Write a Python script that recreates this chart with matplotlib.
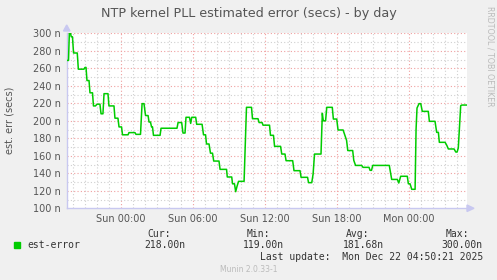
import numpy as np
import matplotlib
matplotlib.use('Agg')
import matplotlib.pyplot as plt

# hours relative to Sun 00:00 and the value (ns), row by row
hours = [-4.45, -4.35, -4.28, -4.18, -4.12, -4.02, -3.93, -3.62, -3.53, -3.06,
         -2.98, -2.89, -2.81, -2.64, -2.56, -2.35, -2.27, -2.10, -1.98, -1.73,
         -1.64, -1.48, -1.39, -1.06, -0.98, -0.56, -0.48, -0.23, -0.14, 0.07,
         0.15, 0.61, 0.69, 1.19, 1.27, 1.65, 1.78, 1.94, 2.07, 2.28,
         2.36, 2.48, 2.57, 2.65, 2.73, 3.28, 3.36, 4.69, 4.78, 5.08,
         5.19, 5.36, 5.44, 5.73, 5.83, 5.92, 6.25, 6.33, 6.78, 6.90,
         7.07, 7.15, 7.36, 7.48, 7.65, 7.75, 8.19, 8.28, 8.82, 8.88,
         9.25, 9.32, 9.48, 9.58, 9.69, 9.82, 10.28, 10.48, 10.90, 10.98,
         11.44, 11.53, 11.78, 11.86, 12.40, 12.48, 12.73, 12.82, 13.32, 13.42,
         13.69, 13.78, 14.33, 14.44, 14.94, 15.03, 15.57, 15.65, 15.92, 16.03,
         16.15, 16.69, 16.80, 16.88, 17.07, 17.17, 17.63, 17.72, 18.00, 18.11,
         18.53, 18.82, 18.92, 19.33, 19.42, 19.57, 20.08, 20.19, 20.69, 20.78,
         20.90, 21.00, 22.38, 22.50, 22.58, 23.05, 23.17, 23.33, 23.88, 23.97,
         24.11, 24.25, 24.53, 24.61, 24.69, 24.86, 25.00, 25.13, 25.63, 25.72,
         26.19, 26.33, 26.47, 26.55, 27.03, 27.17, 27.30, 27.78, 27.92, 28.03,
         28.13, 28.33, 28.42, 28.82]
values = [269, 269, 300, 300, 296, 296, 277.5, 277.5, 259, 259,
          261, 261, 246, 246, 232, 232, 217, 217, 219, 219,
          208, 208, 231, 231, 217, 217, 203, 203, 193, 193,
          184, 184, 186.5, 186.5, 184.5, 184.5, 219.6, 219.6, 206, 206,
          198.6, 198.6, 193, 193, 183.4, 183.4, 191.5, 191.5, 198, 198,
          186, 186, 204, 204, 197, 204, 204, 196, 196, 184,
          184, 173.5, 173.5, 163, 163, 154, 154, 144.5, 144.5, 135.8,
          135.8, 128, 128, 119, 125, 130.8, 130.8, 215.4, 215.4, 202.4,
          202.4, 198, 198, 195, 195, 183.4, 183.4, 170.8, 170.8, 162,
          162, 154.4, 154.4, 143, 143, 135.4, 135.4, 129.3, 129.3, 139,
          162, 162, 208.6, 200, 200, 215.4, 215.4, 202, 202, 189.5,
          189.5, 177.7, 166, 166, 154.8, 149, 149, 146.8, 146.8, 143.4,
          143.4, 149, 149, 139, 133, 133, 128.9, 136.6, 136.6, 128,
          128, 121.7, 121.7, 189.9, 214.6, 219.6, 219.6, 210.8, 210.8, 199.4,
          199.4, 186.8, 186.8, 175.4, 175.4, 172, 167.8, 167.8, 164.3, 164.3,
          169, 217.3, 218, 218]

tick_hours = [0, 6, 12, 18, 24]
tick_labels = ['Sun 00:00', 'Sun 06:00', 'Sun 12:00', 'Sun 18:00', 'Mon 00:00']
ytick_vals = [100, 120, 140, 160, 180, 200, 220, 240, 260, 280, 300]

W, H = 497, 280
fig = plt.figure(figsize=(W / 100, H / 100), dpi=100, facecolor='#F0F0F0')

def px(x0, y0, x1, y1):
    return [x0 / W, 1 - y1 / H, (x1 - x0) / W, (y1 - y0) / H]

ax = fig.add_axes(px(66.7, 33.3, 466.7, 208.3))
ax.set_facecolor('white')
ax.set_xlim(-4.5, 28.83)
ax.set_ylim(100, 300)

# grid
for h in np.arange(-4, 29, 1):
    col = '#F0A0A0' if h % 6 == 0 else '#D0D0D0'
    ax.axvline(h, color=col, lw=0.8, ls=(0, (1, 2)), zorder=1)
for v in range(110, 301, 10):
    col = '#F0A0A0' if v % 20 == 0 else '#D0D0D0'
    ax.axhline(v, color=col, lw=0.8, ls=(0, (1, 2)), zorder=1)

ax.plot(hours, values, color='#00CC00', lw=1.1, zorder=3)

ax.set_xticks(tick_hours)
ax.set_xticklabels(tick_labels)
ax.set_yticks(ytick_vals)
ax.set_yticklabels(['%d n' % v for v in ytick_vals])
ax.tick_params(length=0, labelsize=7, colors='#555555', pad=4)
for s in ['top', 'right']:
    ax.spines[s].set_visible(False)
for s in ['left', 'bottom']:
    ax.spines[s].set_color('#C8C8F0')
    ax.spines[s].set_linewidth(1)

# axis arrows
fig.patches.append(plt.Polygon([[63.5 / W, 1 - 31 / H], [70 / W, 1 - 31 / H], [66.7 / W, 1 - 25 / H]],
                               closed=True, color='#C8C8F0', transform=fig.transFigure))
fig.patches.append(plt.Polygon([[467 / W, 1 - 205 / H], [467 / W, 1 - 211.5 / H], [474 / W, 1 - 208.3 / H]],
                               closed=True, color='#C8C8F0', transform=fig.transFigure))

fig.text(248.5 / W, 1 - 13 / H, 'NTP kernel PLL estimated error (secs) - by day',
         ha='center', va='center', fontsize=9.2, color='#555555')
fig.text(10 / W, 1 - 120.5 / H, 'est. err (secs)', rotation=90, ha='center', va='center',
         fontsize=7, color='#555555')
fig.text(490 / W, 1 - 56 / H, 'RRDTOOL / TOBI OETIKER', rotation=270, ha='center', va='center',
         fontsize=5.7, color='#BBBBBB')

# legend
mono = 'DejaVu Sans Mono'
fig.patches.append(plt.Rectangle((14 / W, 1 - 247.5 / H), 6 / W, 6 / H, color='#00CC00',
                                 transform=fig.transFigure))
fig.text(27 / W, 1 - 245.5 / H, 'est-error', family=mono, fontsize=7, color='#333333', va='center')
heads = ['Cur:', 'Min:', 'Avg:', 'Max:']
stats = ['218.00n', '119.00n', '181.68n', '300.00n']
for i, (hd, st) in enumerate(zip(heads, stats)):
    xr = 185 + 99.3 * i
    fig.text((xr - 14) / W, 1 - 234 / H, hd, family=mono, fontsize=7, color='#333333',
             ha='right', va='center')
    fig.text(xr / W, 1 - 245.5 / H, st, family=mono, fontsize=7, color='#333333',
             ha='right', va='center')
fig.text(483.5 / W, 1 - 257.5 / H, 'Last update:  Mon Dec 22 04:50:21 2025', family=mono,
         fontsize=7, color='#333333', ha='right', va='center')
fig.text(248.5 / W, 1 - 269.5 / H, 'Munin 2.0.33-1', fontsize=5.5, color='#BBBBBB',
         ha='center', va='center')

fig.savefig('out.png', dpi=100, facecolor=fig.get_facecolor())
